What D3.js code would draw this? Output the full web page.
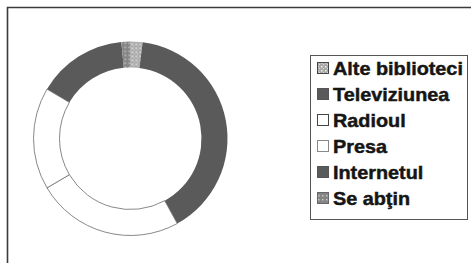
<!DOCTYPE html>
<meta charset="utf-8" />
<title>Donut</title>
<style>
  body { margin: 0; background: #fff; }
  svg { display: block; }
  text {
    font-family: "Liberation Sans", Arial, sans-serif;
    font-weight: bold;
    font-size: 18px;
    fill: #151515;
    stroke: #151515;
    stroke-width: 0.45px;
  }
</style>
<body>
  <svg width="471" height="263"></svg>
  <script src="https://cdn.jsdelivr.net/npm/d3@7"></script>
  <script>
    // data (percent)
    const categories = ["Alte biblioteci", "Televiziunea", "Radioul", "Presa", "Internetul", "Se abţin"];
    const values = [2, 40, 24.5, 17, 15, 1.5];
    const fills = ["url(#patA)", "#5a5a5a", "#fff", "#fff", "#5a5a5a", "url(#patB)"];
    const iconStroke = ["#444", "#555", "#444", "#888", "#555", "#666"];

    const svg = d3.select("svg");

    // scan-like patterns for the two small slices
    const defs = svg.append("defs");
    const pA = defs.append("pattern").attr("id", "patA")
      .attr("patternUnits", "userSpaceOnUse").attr("width", 4).attr("height", 4);
    pA.append("rect").attr("width", 4).attr("height", 4).attr("fill", "#a9a9a9");
    pA.append("rect").attr("x", 1).attr("y", 1).attr("width", 1.5).attr("height", 1.5).attr("fill", "#eee");
    pA.append("rect").attr("x", 3).attr("y", 3).attr("width", 1).attr("height", 1).attr("fill", "#ddd");
    const pB = defs.append("pattern").attr("id", "patB")
      .attr("patternUnits", "userSpaceOnUse").attr("width", 4).attr("height", 4);
    pB.append("rect").attr("width", 4).attr("height", 4).attr("fill", "#858585");
    pB.append("rect").attr("x", 2).attr("y", 0).attr("width", 1.5).attr("height", 1.5).attr("fill", "#c8c8c8");

    // chart frame (only top and left edges are visible)
    svg.append("path")
      .attr("d", "M7.5,263 V7.5 H471")
      .attr("fill", "none")
      .attr("stroke", "#3a3a3a")
      .attr("stroke-width", 1.6);

    // donut
    const cx = 130.5, cy = 138.5;
    const pie = d3.pie().sort(null).startAngle(0).endAngle(2 * Math.PI);
    const arc = d3.arc().innerRadius(71).outerRadius(97);

    svg.append("g")
      .attr("transform", `translate(${cx},${cy})`)
      .selectAll("path")
      .data(pie(values))
      .enter()
      .append("path")
      .attr("d", arc)
      .attr("fill", (d, i) => fills[i])
      .attr("stroke", (d, i) => fills[i] === "#fff" ? "#6a6a6a" : "none")
      .attr("stroke-width", 0.8);

    // legend
    const lx = 310.5, ly = 55.5, lw = 157, lh = 164;
    svg.append("rect")
      .attr("x", lx).attr("y", ly).attr("width", lw).attr("height", lh)
      .attr("fill", "#fff")
      .attr("stroke", "#555")
      .attr("stroke-width", 1);

    const y = d3.scalePoint().domain(categories).range([69, 199]);

    const item = svg.selectAll("g.item")
      .data(categories)
      .enter()
      .append("g")
      .attr("class", "item")
      .attr("transform", d => `translate(0,${y(d)})`);

    item.append("rect")
      .attr("x", 317.5).attr("y", -6.5)
      .attr("width", 11).attr("height", 11)
      .attr("fill", (d, i) => fills[i])
      .attr("stroke", (d, i) => iconStroke[i])
      .attr("stroke-width", 1);

    const labels = item.append("text")
      .attr("x", 333)
      .attr("dy", "0.36em")
      .text(d => d);

    // the scan is stretched sideways: fit first label to its measured width
    const k = 130 / labels.node().getComputedTextLength();
    labels.attr("transform", `translate(333,0) scale(${k},1) translate(-333,0)`);
  </script>
</body>
